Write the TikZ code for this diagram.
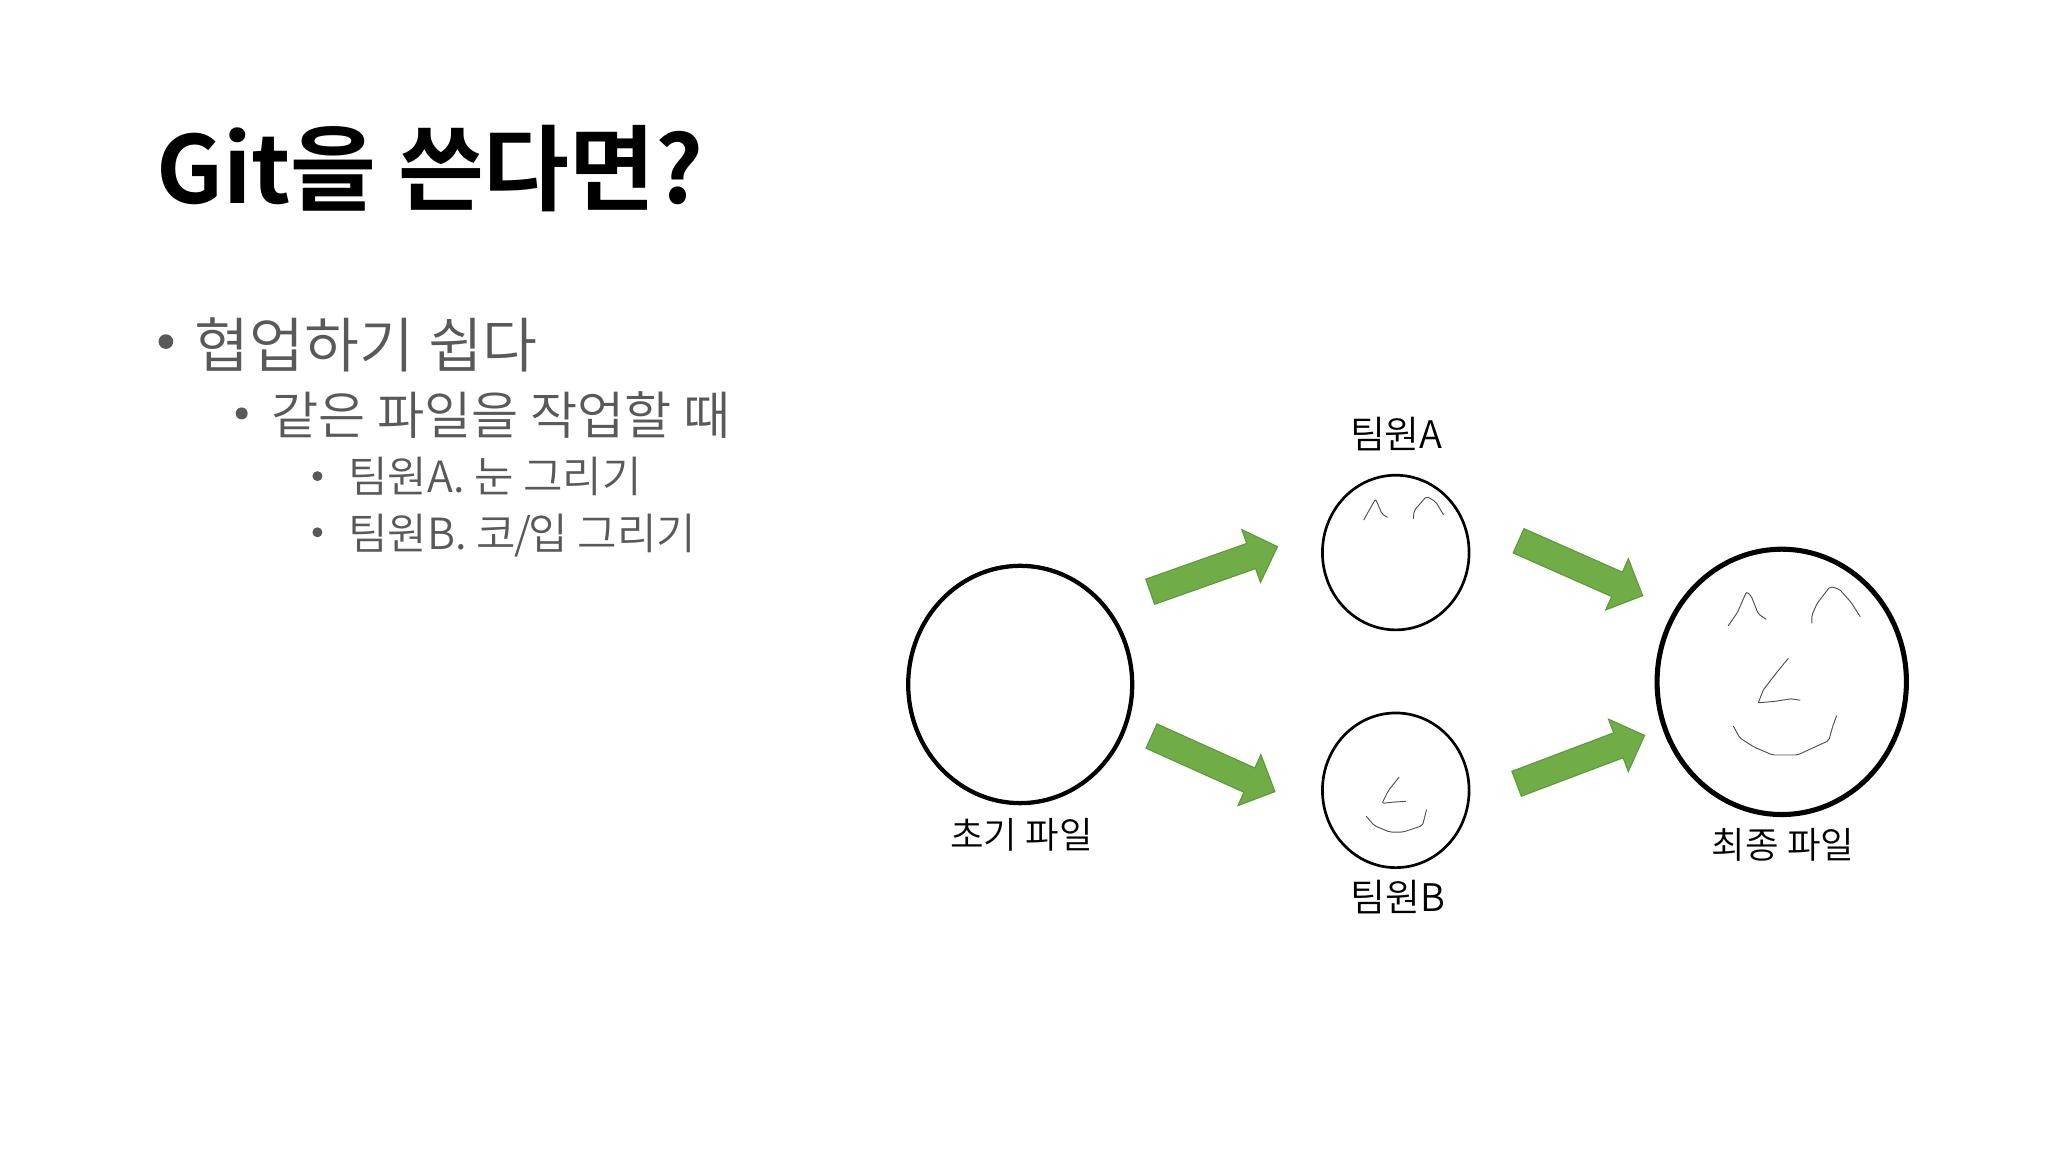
\documentclass[tikz,border=0pt]{standalone}
\usepackage{fontspec}
\usetikzlibrary{shapes.geometric,calc}
\newfontfamily\krbold{Noto Sans CJK KR Bold}
\newfontfamily\krlight{Noto Sans CJK KR DemiLight}
\definecolor{bodygray}{HTML}{595959}
\definecolor{arrowfill}{HTML}{70AD47}
\definecolor{arrowline}{HTML}{5B9A38}
\definecolor{sketchline}{HTML}{505050}
\tikzset{
  titletext/.style={anchor=base west,inner sep=0pt,font=\krbold\fontsize{70}{80}\selectfont,text=black},
  bodyone/.style={anchor=base west,inner sep=0pt,font=\krlight\fontsize{44.8}{50}\selectfont,text=bodygray},
  bodytwo/.style={anchor=base west,inner sep=0pt,font=\krlight\fontsize{38.5}{44}\selectfont,text=bodygray},
  bodythree/.style={anchor=base west,inner sep=0pt,font=\krlight\fontsize{32.2}{38}\selectfont,text=bodygray},
  dot/.style={circle,fill=bodygray,inner sep=0pt,outer sep=0pt},
  facelabel/.style={inner sep=0pt,font=\krlight\fontsize{27.4}{32}\selectfont,text=black},
  teamlabel/.style={inner sep=0pt,font=\krlight\fontsize{28.5}{32}\selectfont,text=black},
  face/.style={ellipse,draw=black,inner sep=0pt,outer sep=0pt},
  sketch/.style={draw=sketchline,line width=0.7pt,line join=round,line cap=round,rounded corners=1.5pt},
  blockarrow/.style={fill=arrowfill,draw=arrowline,line width=0.8pt,line join=miter}
}
\newcommand{\blockarrow}[2]{%
  \coordinate (h) at ($(#2)!21pt!(#1)$);
  \path[blockarrow] ($(#1)!10pt!90:(#2)$) -- ($(h)!10pt!90:(#2)$) -- ($(h)!21pt!90:(#2)$) -- (#2)
    -- ($(h)!21pt!-90:(#2)$) -- ($(h)!10pt!-90:(#2)$) -- ($(#1)!10pt!-90:(#2)$) -- cycle;
}
\begin{document}
\begin{tikzpicture}[x=0.9797pt,y=-0.9797pt]
\useasboundingbox (0,0) rectangle (1567.83,881.9);
\fill[white] (0,0) rectangle (1567.83,881.9);
% text
\node[titletext] (title) at (119.5,156) {Git을 쓴다면?};
\node[dot,minimum size=11pt] (b1) at (127,261.5) {};
\node[bodyone] (t1) at (149,281.5) {협업하기 쉽다};
\node[dot,minimum size=9pt] (b2) at (185,316.5) {};
\node[bodytwo] (t2) at (207.5,332.5) {같은 파일을 작업할 때};
\node[dot,minimum size=7.5pt] (b3) at (243,364.5) {};
\node[bodythree] (t3) at (266.5,377) {팀원A. 눈 그리기};
\node[dot,minimum size=7.5pt] (b4) at (243,407.5) {};
\node[bodythree] (t4) at (266.5,420.5) {팀원B. 코\kern-1.5pt/\kern-1.5pt입 그리기};
% faces
\node[face,line width=3.2pt,minimum width=168pt,minimum height=178pt] (init) at (781,524) {};
\node[face,line width=2pt,minimum width=110pt,minimum height=116pt] (teamA) at (1068.5,423) {};
\node[face,line width=2pt,minimum width=110pt,minimum height=116pt] (teamB) at (1068.5,605) {};
\node[face,line width=3.8pt,minimum width=187pt,minimum height=199pt] (final) at (1364,522) {};
% labels
\node[facelabel] (linit) at (782,639) {초기 파일};
\node[teamlabel] (lA) at (1069,332) {팀원A};
\node[teamlabel] (lB) at (1070,687) {팀원B};
\node[facelabel] (lfinal) at (1365,647) {최종 파일};
% arrows
\coordinate (a1s) at (880.5,453);
\coordinate (a1e) at (978,418.5);
\coordinate (a2s) at (881.5,563.5);
\coordinate (a2e) at (976,606);
\coordinate (a3s) at (1162.5,414);
\coordinate (a3e) at (1257.5,456);
\coordinate (a4s) at (1161,600);
\coordinate (a4e) at (1259,563);
\blockarrow{a1s}{a1e}
\blockarrow{a2s}{a2e}
\blockarrow{a3s}{a3e}
\blockarrow{a4s}{a4e}
% sketches: team A eyes
\draw[sketch] (1044,398) -- (1053,382) -- (1058,393.5) -- (1062,396);
\draw[sketch] (1082,397) -- (1082.5,391) -- (1092,380) -- (1099,384) -- (1105,394);
% team B nose and mouth
\draw[sketch] (1071,595) -- (1063,605) -- (1058,615) -- (1067,614) -- (1076,613.5);
\draw[sketch] (1046,625) -- (1052,632) -- (1064,637) -- (1074,637) -- (1089,632) -- (1092,620);
% final face
\draw[sketch] (1323,479) -- (1330,469) -- (1337,453) -- (1340.5,456) -- (1346,470) -- (1352,474);
\draw[sketch] (1387,477) -- (1387,471) -- (1391,462) -- (1401,449) -- (1408,451) -- (1417,461) -- (1424,472);
\draw[sketch,rounded corners=0.5pt] (1369,504) -- (1360,515) -- (1350,528) -- (1346,538) -- (1358,537) -- (1371,535) -- (1378,536);
\draw[sketch] (1327,556) -- (1332,565) -- (1343,572) -- (1357,578) -- (1376,578) -- (1389,572) -- (1400,567) -- (1403,556) -- (1406,548);
\end{tikzpicture}
\end{document}
